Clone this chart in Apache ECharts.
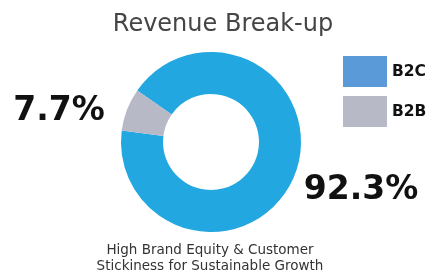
<!DOCTYPE html>
<html>
<head>
<meta charset="utf-8">
<script src="https://cdn.jsdelivr.net/npm/echarts@6/dist/echarts.min.js"></script>
<style>
  html, body { margin: 0; padding: 0; background: #fff; }
  #main { width: 446px; height: 277px; }
</style>
</head>
<body>
<div id="main"></div>
<script>
// data
var categories = ['B2C', 'B2B'];
var shares = [92.3, 7.7];
var sliceColors = ['#22a7e0', '#b8b9c7'];
var legendColors = ['#5b9ad8', '#b8b9c7'];
var labelPos = [[361, 190], [59, 111]];

var myChart = echarts.init(document.getElementById('main'));

var pieData = [];
for (var i = 0; i < categories.length; i++) {
    pieData.push({
        name: categories[i],
        value: shares[i],
        itemStyle: { color: sliceColors[i] }
    });
}
var legendData = [];
for (var j = 0; j < categories.length; j++) {
    legendData.push({ name: categories[j], icon: 'rect', itemStyle: { color: legendColors[j] } });
}

myChart.setOption({
    backgroundColor: '#fff',
    title: [{
        text: 'Revenue Break-up',
        left: 'center',
        top: 8,
        textStyle: { fontFamily: 'DejaVu Sans', fontWeight: 'normal', fontSize: 24, color: '#454545' }
    }, {
        text: 'High Brand Equity & Customer\nStickiness for Sustainable Growth',
        left: 205,
        textAlign: 'center',
        top: 237,
        textStyle: { fontFamily: 'DejaVu Sans', fontWeight: 'normal', fontSize: 13.5, lineHeight: 16, color: '#333', align: 'center' }
    }],
    legend: {
        orient: 'vertical',
        left: 338,
        top: 51,
        itemWidth: 44,
        itemHeight: 31,
        itemGap: 9,
        selectedMode: false,
        data: legendData,
        textStyle: { fontFamily: 'DejaVu Sans', fontWeight: 'bold', fontSize: 15.5, color: '#111', padding: [0, 0, 0, 0] }
    },
    series: [{
        name: 'Revenue Break-up',
        type: 'pie',
        radius: [48, 90],
        center: [211, 142],
        startAngle: 145,
        clockwise: true,
        data: pieData,
        label: {
            show: true,
            position: 'outside',
            formatter: '{c}%',
            overflow: 'none',
            fontFamily: 'DejaVu Sans',
            fontWeight: 'bold',
            fontSize: 33,
            color: '#111'
        },
        labelLine: { show: false },
        labelLayout: function (params) {
            return { x: labelPos[params.dataIndex][0], y: labelPos[params.dataIndex][1], align: 'center', verticalAlign: 'middle' };
        },
        emphasis: { disabled: true }
    }]
});
</script>
</body>
</html>
